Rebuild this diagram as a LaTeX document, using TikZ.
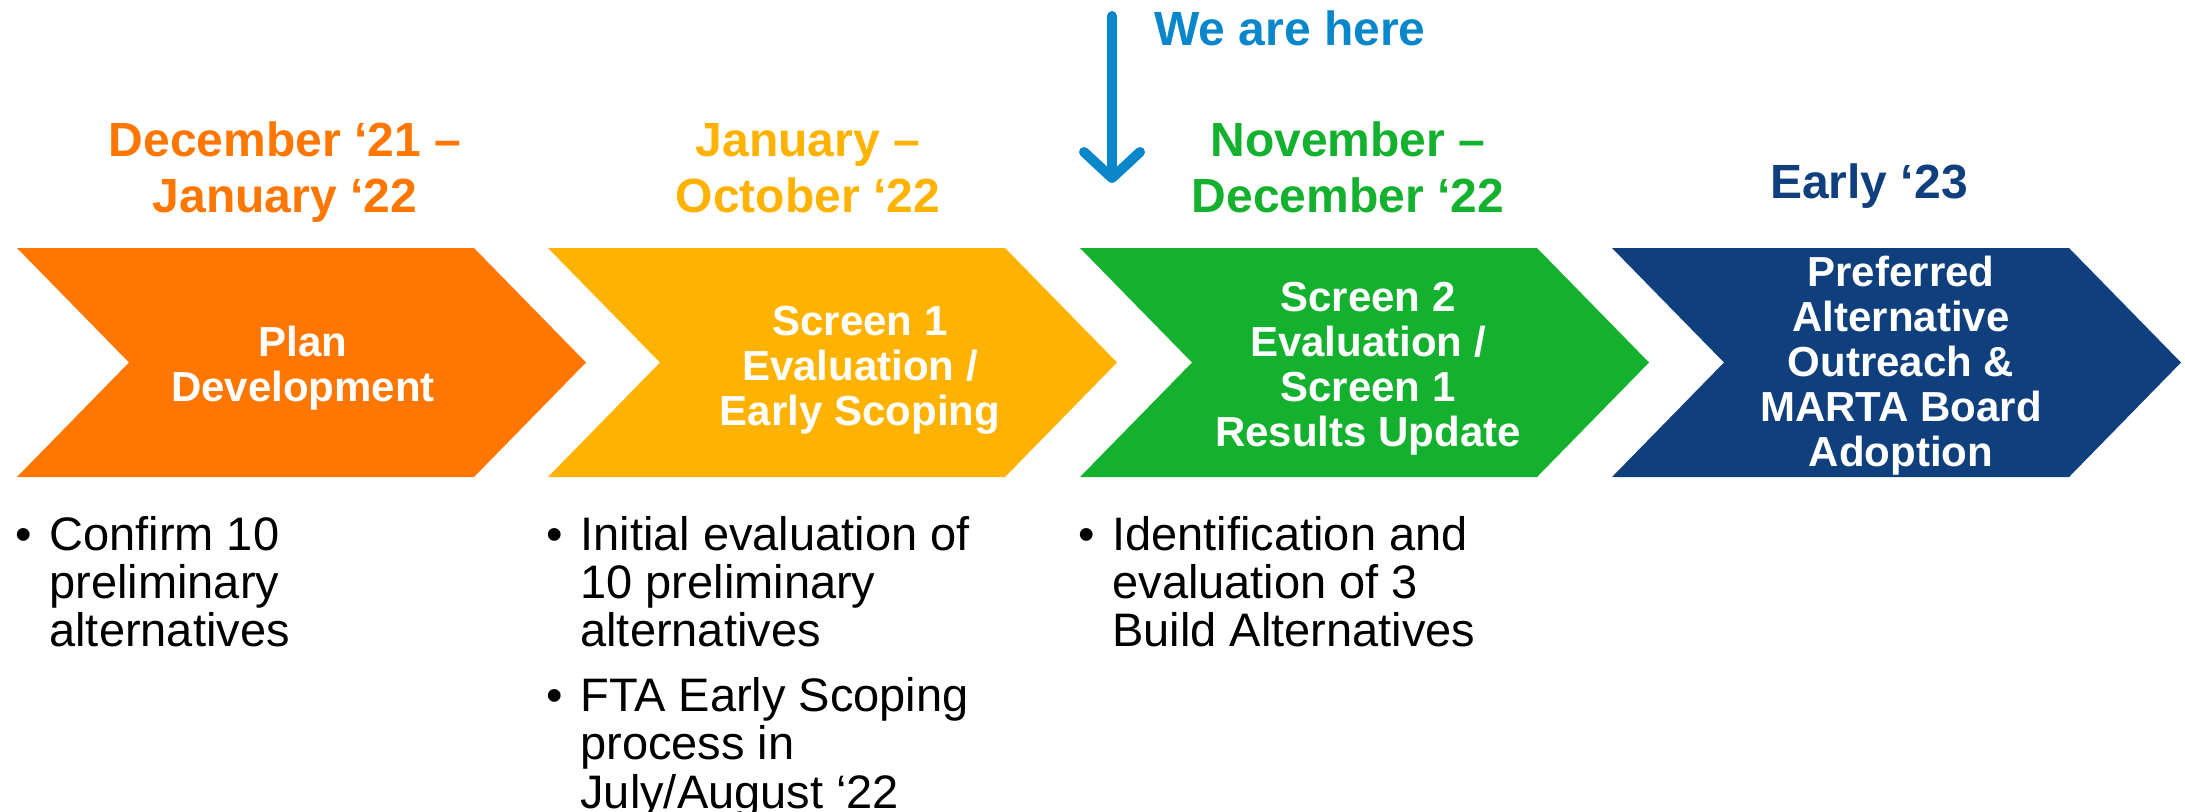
\documentclass[tikz,border=0pt]{standalone}
\usepackage{fontspec}
\setmainfont{Liberation Sans}
\usetikzlibrary{arrows.meta}
\definecolor{planorange}{HTML}{FF7600}
\definecolor{scopeyellow}{HTML}{FFB300}
\definecolor{screengreen}{HTML}{14B12F}
\definecolor{boardblue}{HTML}{0F3F7D}
\definecolor{hereblue}{HTML}{0A87CB}
\newcommand{\bul}{\makebox[17pt][l]{\textbullet}}

\begin{document}
\begin{tikzpicture}[x = 0.5pt, y = -0.5pt,
        date/.style = {font = \fontsize{24}{28}\selectfont\bfseries, align = center, anchor = base, inner sep = 0},
        phase/.style = {font = \fontsize{21}{22.5}\selectfont\bfseries, align = center, anchor = base, inner sep = 0, white},
        bullets/.style = {font = \fontsize{23.5}{24}\selectfont, anchor = base west, inner sep = 0}]
    \useasboundingbox (0, 0) rectangle (2185, 811);
    % chevrons
    \foreach \x/\col in {17/planorange, 548/scopeyellow, 1080/screengreen, 1612/boardblue}
        \fill[\col] (\x, 248) -- ++(457, 0) -- ++(112, 114.5) -- ++(-112, 114.5) -- ++(-457, 0) -- ++(112, -114.5) -- cycle;
    % dates (base = last line)
    \node[date, planorange] (datedec) at (285, 212) {December `21 --\\January `22};
    \node[date, scopeyellow] (datejan) at (808, 212) {January --\\October `22};
    \node[date, screengreen] (datenov) at (1348, 212) {November --\\December `22};
    \node[date, boardblue] (dateearly) at (1869, 198) {Early `23};
    % phases
    \node[phase] (plan) at (303, 401) {Plan\\Development};
    \node[phase] (screenone) at (860, 425) {Screen 1\\Evaluation /\\Early Scoping};
    \node[phase] (screentwo) at (1368, 446) {Screen 2\\Evaluation /\\Screen 1\\Results Update};
    \node[phase] (adopt) at (1901, 466) {Preferred\\Alternative\\Outreach \&\\MARTA Board\\Adoption};
    % we are here
    \node[font = \fontsize{24}{28}\selectfont\bfseries, hereblue, anchor = base west, inner sep = 0] (herelabel) at (1154, 45) {We are here};
    \coordinate (herestart) at (1112, 16);
    \coordinate (hereend) at (1112, 183);
    \draw[hereblue, line width = 5pt, line cap = round, -{Straight Barb[length = 13pt, width = 28pt, round]}] (herestart) -- (hereend);
    % bullet lists
    \node[bullets] (listplan) at (15, 550) {\begin{tabular}[t]{@{}l@{}l@{}}
        \bul & Confirm 10\\ & preliminary\\ & alternatives\end{tabular}};
    \node[bullets] (listscreen) at (546, 550) {\begin{tabular}[t]{@{}l@{}l@{}}
        \bul & Initial evaluation of\\ & 10 preliminary\\ & alternatives\\[8pt]
        \bul & FTA Early Scoping\\ & process in\\ & July/August `22\end{tabular}};
    \node[bullets] (listbuild) at (1078, 550) {\begin{tabular}[t]{@{}l@{}l@{}}
        \bul & Identification and\\ & evaluation of 3\\ & Build Alternatives\end{tabular}};
\end{tikzpicture}
\end{document}
